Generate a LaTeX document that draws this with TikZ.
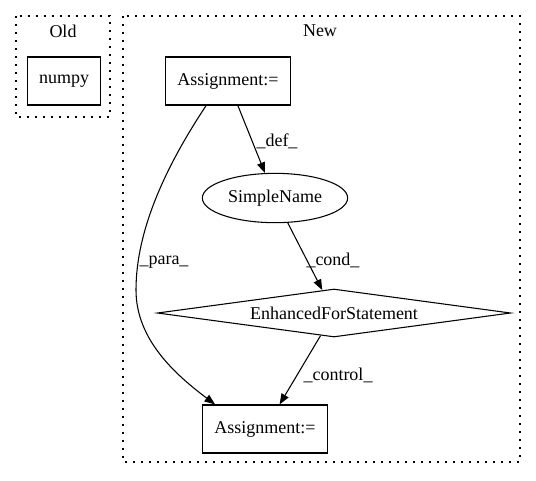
\documentclass[tikz,border=0pt]{standalone}
\usepackage{fontspec}
\setmainfont{Liberation Serif}
\usepackage{tikz}
\usetikzlibrary{shapes.geometric,arrows.meta}

\begin{document}
\begin{tikzpicture}[x=0.75pt,y=-0.75pt,
    every node/.style={font=\fontsize{13.5}{16}\selectfont},
    box/.style={rectangle,draw,thick,minimum width=94pt,minimum height=36pt,inner sep=0pt},
    edge/.style={-{Triangle[length=8pt,width=6pt]},thick},
    cluster/.style={draw,thick,dash pattern=on 1.2pt off 4.8pt}]
    \useasboundingbox (0,0) rectangle (536,480);
    % clusters
    \draw [cluster] (16,16) rectangle (110,117);
    \node (old) at (63,31) {Old};
    \draw [cluster] (123,16) rectangle (520,462);
    \node (new) at (320,31) {New};
    % nodes
    \node [box,minimum width=55pt] (numpy) at (64,81) {numpy};
    \node [box] (asgA) at (228,81) {Assignment:=};
    \node [ellipse,draw,thick,minimum width=109pt,minimum height=37pt,inner sep=0pt] (sname) at (275,198) {SimpleName};
    \node [diamond,draw,thick,shape aspect=7.3,minimum width=265pt,minimum height=36pt,inner sep=0pt] (efor) at (334,313) {EnhancedForStatement};
    \node [box] (asgB) at (265,429) {Assignment:=};
    % edges
    \draw [edge] (asgA) -- (sname);
    \draw [edge] (sname) -- (efor);
    \draw [edge] (efor) -- (asgB);
    \draw [edge] ([xshift=31pt]asgA.south west) .. controls (166,166) and (136,230) .. (136,290)
        .. controls (136,340) and (176,375) .. ([xshift=10pt]asgB.north west);
    % edge labels
    \node (ldef) at (277,141) {\_def\_};
    \node (lcond) at (333,260) {\_cond\_};
    \node (lcontrol) at (338,375) {\_control\_};
    \node (lpara) at (164,262) {\_para\_};
\end{tikzpicture}
\end{document}
